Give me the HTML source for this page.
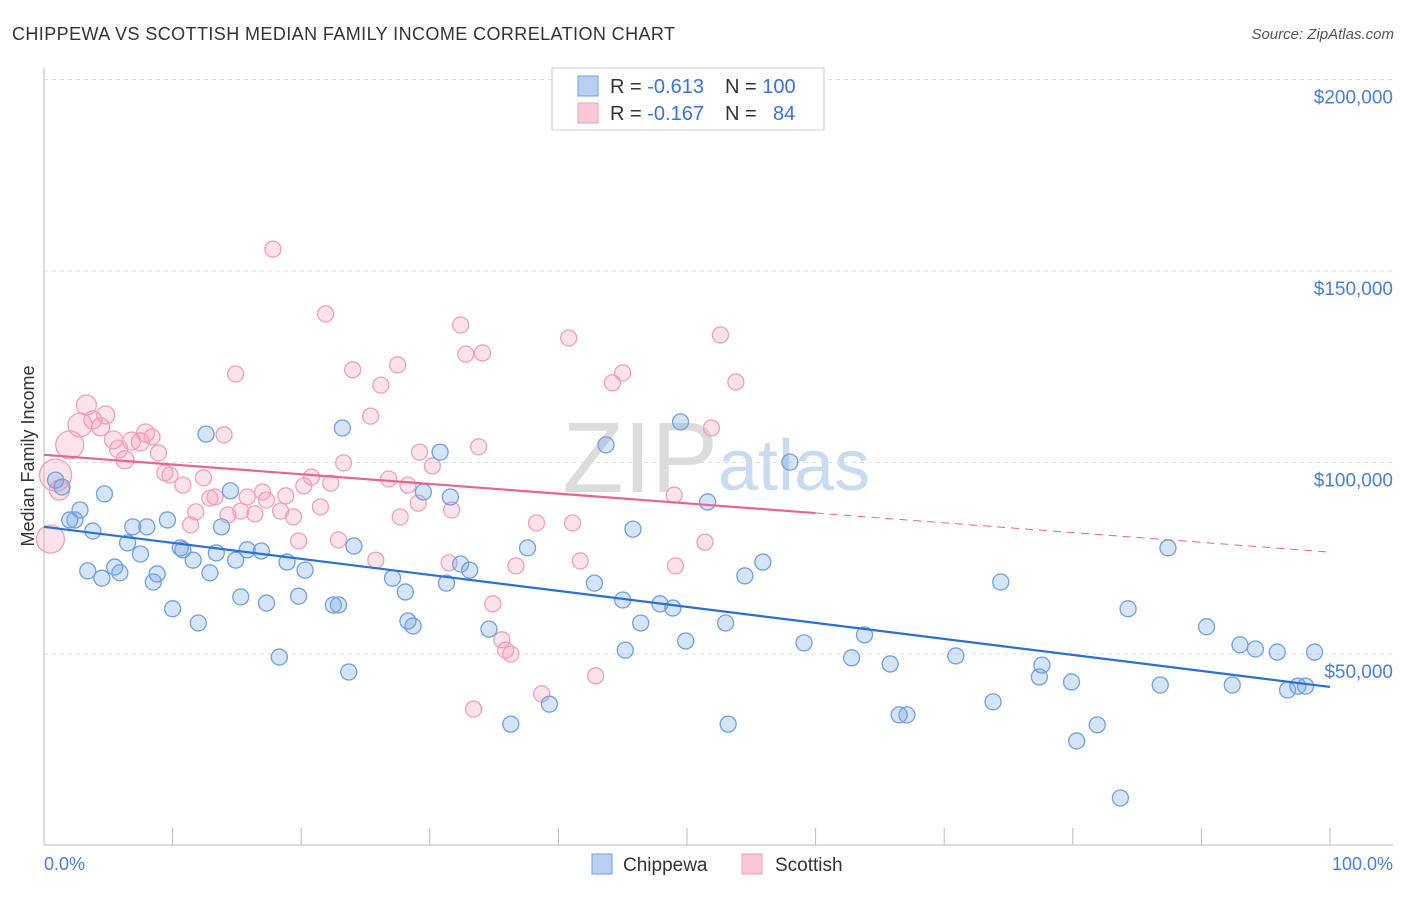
<!DOCTYPE html>
<html><head><meta charset="utf-8"><style>
body{margin:0;background:#fff;font-family:"Liberation Sans",sans-serif}
svg text{font-family:"Liberation Sans",sans-serif}
</style></head><body>
<svg id="chart" width="1406" height="892" xmlns="http://www.w3.org/2000/svg">
<text x="12" y="40" font-size="18" fill="#333" textLength="663">CHIPPEWA VS SCOTTISH MEDIAN FAMILY INCOME CORRELATION CHART</text>
<text x="1394" y="39" font-size="15" fill="#555" text-anchor="end" font-style="italic">Source: ZipAtlas.com</text>
<text x="718" y="492" font-size="100" fill="#dcdcdc" text-anchor="end" font-family="Liberation Serif">ZIP</text>
<text x="718" y="490" font-size="72" fill="#c9dbf1">atlas</text>
<g id="grid"></g>
<g id="axes"></g>
<g id="points"></g>
<g id="trends"></g>
<text transform="translate(34,456) rotate(-90)" font-size="18" fill="#333" text-anchor="middle">Median Family Income</text>
<text x="44" y="870" font-size="18" fill="#4a7fd4">0.0%</text>
<text x="1393" y="870" font-size="18" fill="#4a7fd4" text-anchor="end">100.0%</text>
<g>
<rect x="552" y="68" width="272" height="62" fill="#fff" stroke="#ccc"/>
<rect x="578" y="76" width="20" height="20" fill="#b8d0f0" stroke="#6fa0e0"/>
<rect x="578" y="103" width="20" height="20" fill="#f8c8d6" stroke="#f0a0b8"/>
<text x="610" y="93" font-size="20" fill="#333">R = <tspan fill="#3a72d8">-0.613</tspan><tspan x="725">N = </tspan><tspan fill="#3a72d8">100</tspan></text>
<text x="610" y="120" font-size="20" fill="#333">R = <tspan fill="#3a72d8">-0.167</tspan><tspan x="725">N = </tspan><tspan x="773" fill="#3a72d8">84</tspan></text>
</g>
<g>
<rect x="592" y="854" width="20" height="20" fill="#b8d0f0" stroke="#6fa0e0"/>
<text x="623" y="871" font-size="19" fill="#333">Chippewa</text>
<rect x="742" y="854" width="20" height="20" fill="#f8c8d6" stroke="#f0a0b8"/>
<text x="775" y="871" font-size="19" fill="#333">Scottish</text>
</g>
</svg>
<script>
const yTicks=[50000,100000,150000,200000];
const yTickLabels=["$50,000","$100,000","$150,000","$200,000"];
const xTicks=[0,10,20,30,40,50,60,70,80,90,100];
const blueX=[0.9,1.4,2.0,2.4,2.8,3.8,4.7,3.4,4.5,5.5,5.9,6.5,6.9,7.5,8.0,8.5,8.8,9.6,10.0,10.6,10.8,11.6,12.0,12.6,12.9,13.4,13.8,14.5,14.9,15.3,15.8,16.9,17.3,18.3,18.9,19.8,20.3,22.5,22.9,23.2,23.7,24.1,27.1,28.1,28.3,28.7,29.5,30.8,31.3,31.6,32.4,33.1,34.6,36.3,37.6,39.3,42.8,43.7,45.0,45.2,45.8,46.4,47.9,48.9,49.5,49.9,51.6,53.0,53.2,54.5,55.9,58.0,59.1,62.8,63.8,65.8,66.5,67.1,70.9,73.8,74.4,77.4,77.6,79.9,80.3,81.9,83.7,84.3,86.8,87.4,90.4,92.4,93.0,94.2,95.9,96.7,97.5,98.1,98.8];
const blueY=[95.4,93.6,85.0,85.0,87.6,82.1,91.8,71.7,69.8,72.7,71.2,79.0,83.2,76.1,83.2,68.8,70.9,85.0,61.8,77.7,77.2,74.5,58.1,107.4,71.2,76.4,83.2,92.6,74.5,64.9,77.2,76.9,63.3,49.2,74.0,65.1,71.9,62.8,62.8,109.0,45.3,78.2,69.8,66.2,58.6,57.3,92.3,102.7,68.5,91.0,73.5,71.9,56.5,31.7,77.7,36.9,68.5,104.6,64.1,51.0,82.6,58.1,63.1,62.0,110.6,53.4,89.7,58.1,31.7,70.4,74.0,100.1,52.9,49.0,55.0,47.4,34.1,34.1,49.5,37.5,68.8,44.0,47.1,42.7,27.3,31.5,12.4,61.8,41.9,77.7,57.1,41.9,52.4,51.3,50.5,40.6,41.6,41.6,50.5];
const pinkX=[0.5,0.9,1.2,2.0,2.8,3.3,3.8,4.4,4.8,5.4,5.8,6.3,6.8,7.5,7.9,8.4,8.9,9.4,9.8,10.8,11.4,11.8,12.4,12.9,13.3,14.0,14.3,14.9,15.3,15.8,16.4,17.0,17.3,17.8,18.4,18.8,19.4,19.8,20.2,20.8,21.5,21.9,22.3,22.9,23.3,24.0,25.4,25.8,26.2,26.8,27.5,27.7,28.3,29.1,29.2,30.2,31.7,31.5,32.4,32.8,33.4,33.8,34.1,34.9,35.6,35.9,36.3,36.7,38.3,38.7,40.8,41.1,41.7,42.9,44.2,45.0,49.0,49.1,51.4,51.9,52.6,53.8];
const pinkY=[80.0,96.7,92.8,104.6,109.8,115.0,111.1,109.3,112.4,105.9,103.5,100.7,105.6,105.4,107.7,106.7,102.5,97.3,96.7,94.1,83.7,87.1,96.0,90.7,91.0,107.2,86.3,123.1,87.3,91.0,86.6,92.3,90.2,155.7,87.3,91.3,85.8,79.5,93.9,96.2,88.4,138.8,94.6,79.8,99.9,124.2,112.1,74.5,120.2,95.7,125.5,85.8,94.1,89.4,102.7,99.1,87.6,73.8,135.9,128.3,35.6,104.1,128.6,63.1,53.7,51.0,50.0,73.0,84.2,39.6,132.5,84.2,74.3,44.3,120.8,123.4,91.5,73.0,79.2,109.0,133.3,121.0];
const pinkSize=[14,16,10,14,12,10,9,9,9,9,9,9,9,9,9];
const blueTrendX=[0,100], blueTrendY=[83.2,41.4];
const pinkTrendX=[0,60,100], pinkTrendY=[102.0,86.8,76.6];

const L=44,R=1330,GR=1393,B=845.5,PPK=191.5/50;
const sx=p=>L+p/100*(R-L);
const sy=k=>B-k*PPK;
const NS="http://www.w3.org/2000/svg";
function mk(tag,attrs,parent){const e=document.createElementNS(NS,tag);for(const k in attrs)e.setAttribute(k,attrs[k]);parent.appendChild(e);return e;}
const grid=document.getElementById('grid'),axes=document.getElementById('axes'),pts=document.getElementById('points'),tr=document.getElementById('trends');
yTicks.forEach((v,i)=>{
 const y=sy(v/1000);
 const g=mk('line',{x1:L,x2:GR,y1:y,y2:y,stroke:'#ddd','stroke-dasharray':'4,4'},grid);
 
 
 const t=mk('text',{x:GR,y:y+24,'font-size':19,fill:'#4a7fd4','text-anchor':'end'},grid);
 t.textContent=yTickLabels[i];
 
 
});
const ax=mk('line',{x1:L,x2:L,y1:68,y2:845,stroke:'#bbb'},axes);


const bx=mk('line',{x1:L,x2:GR,y1:845,y2:845,stroke:'#bbb'},axes);


xTicks.forEach(p=>{
 const t=mk('line',{x1:sx(p),x2:sx(p),y1:828,y2:845,stroke:'#bbb'},axes);
 
 
});
pinkX.forEach((p,i)=>{
 const c=mk('circle',{cx:sx(p),cy:sy(pinkY[i]),r:pinkSize[i]||8,fill:'rgba(244,160,186,0.3)',stroke:'#f0a0b8','stroke-width':1.3},pts);
 
 
});
blueX.forEach((p,i)=>{
 const c=mk('circle',{cx:sx(p),cy:sy(blueY[i]),r:8,fill:'rgba(120,165,230,0.3)',stroke:'#6fa0e0','stroke-width':1.3},pts);
 
 
});
const bl=mk('line',{x1:sx(blueTrendX[0]),y1:sy(blueTrendY[0]),x2:sx(blueTrendX[1]),y2:sy(blueTrendY[1]),stroke:'#2a6fd8','stroke-width':2.2},tr);


const pl=mk('line',{x1:sx(pinkTrendX[0]),y1:sy(pinkTrendY[0]),x2:sx(pinkTrendX[1]),y2:sy(pinkTrendY[1]),stroke:'#e8648e','stroke-width':2.2},tr);


const pd=mk('line',{x1:sx(pinkTrendX[1]),y1:sy(pinkTrendY[1]),x2:sx(pinkTrendX[2]),y2:sy(pinkTrendY[2]),stroke:'#e8648e','stroke-width':1,'stroke-dasharray':'8,6'},tr);


</script>
</body></html>
